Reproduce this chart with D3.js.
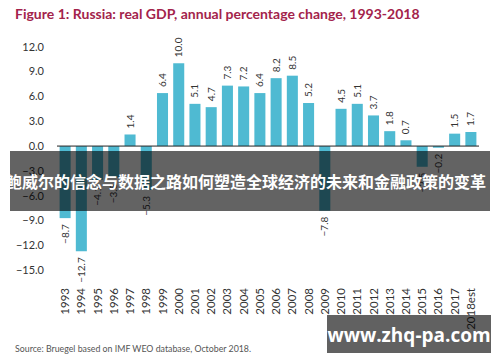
<!DOCTYPE html>
<html><head><meta charset="utf-8">
<script src="https://cdn.jsdelivr.net/npm/d3@7/dist/d3.min.js"></script>
<style>body{margin:0;background:#fff}svg{display:block}</style>
</head><body>
<svg id="c" width="500" height="362"></svg>
<script>
const years = ["1993","1994","1995","1996","1997","1998","1999","2000","2001","2002","2003","2004","2005","2006","2007","2008","2009","2010","2011","2012","2013","2014","2015","2016","2017","2018est"];
const growth = [-8.7,-12.7,-4.1,-3.8,1.4,-5.3,6.4,10.0,5.1,4.7,7.3,7.2,6.4,8.2,8.5,5.2,-7.8,4.5,5.1,3.7,1.8,0.7,-2.5,-0.2,1.5,1.7];
const yTicks = [12,9,6,3,0,-3,-6,-9,-12,-15];
const title = "Figure 1: Russia: real GDP, annual percentage change, 1993-2018";
const source = "Source: Bruegel based on IMF WEO database, October 2018.";
const banner = "鲍威尔的信念与数据之路如何塑造全球经济的未来和金融政策的变革";
const watermark = "www.zhq-pa.com";

const svg = d3.select("#c");
const font = "Lato, 'Open Sans', sans-serif";

svg.append("text").attr("x",15).attr("y",19).attr("fill","#a3234b")
  .attr("font-family",font).attr("font-weight","bold").attr("font-size",14)
  .text(title);

const x = d3.scaleBand().domain(years).range([57,479]).paddingInner(0.32).paddingOuter(0.16);
const y = d3.scaleLinear().domain([-15,12]).range([270.3,46.7]);

// y tick labels
svg.append("g").selectAll("text").data(yTicks).join("text")
  .attr("x",44).attr("y",d=>y(d)).attr("dy","0.35em").attr("text-anchor","end")
  .attr("font-family",font).attr("font-size",11).attr("fill","#333")
  .text(d=>d3.format(".1f")(d));

// bars
svg.append("g").selectAll("rect").data(growth).join("rect")
  .attr("x",(d,i)=>x(years[i])).attr("width",x.bandwidth())
  .attr("y",d=>y(Math.max(0,d))).attr("height",d=>Math.abs(y(d)-y(0)))
  .attr("fill","#4fbad2");

// zero axis
svg.append("line").attr("x1",57).attr("x2",479).attr("y1",y(0)).attr("y2",y(0))
  .attr("stroke","#222").attr("stroke-width",1);

// value labels
svg.append("g").selectAll("text").data(growth).join("text")
  .attr("transform",(d,i)=>{
    const cx = x(years[i]) + x.bandwidth()/2;
    const yy = d>=0 ? y(d)-6 : y(d)+6;
    return `translate(${cx},${yy}) rotate(-90)`;
  })
  .attr("text-anchor",d=>d>=0?"start":"end").attr("dy","0.35em")
  .attr("font-family",font).attr("font-size",10).attr("fill","#333")
  .text(d=>d3.format(".1f")(d));

// year labels
svg.append("g").selectAll("text").data(years).join("text")
  .attr("transform",d=>`translate(${x(d)+x.bandwidth()/2},288) rotate(-90)`)
  .attr("text-anchor","end").attr("dy","0.35em")
  .attr("font-family",font).attr("font-size",11.5).attr("fill","#333")
  .text(d=>d);

svg.append("text").attr("x",15).attr("y",352).attr("fill","#555")
  .attr("font-family",font).attr("font-size",8.8).text(source);

// overlay banner
svg.append("rect").attr("x",10).attr("y",151).attr("width",480).attr("height",60)
  .attr("fill","#000").attr("opacity",0.61);
svg.append("text").attr("x",246).attr("y",182).attr("dy","0.35em").attr("text-anchor","middle")
  .attr("font-family","'Noto Sans CJK SC', sans-serif").attr("font-weight","bold")
  .attr("font-size",16).attr("fill","#fff").text(banner);

// watermark
svg.append("rect").attr("x",327).attr("y",315).attr("width",164).attr("height",38)
  .attr("fill","#000").attr("opacity",0.62);
svg.append("text").attr("x",409).attr("y",335).attr("dy","0.35em").attr("text-anchor","middle")
  .attr("font-family","'Open Sans', sans-serif").attr("font-weight","bold")
  .attr("font-size",19).attr("fill","#fff").text(watermark);
</script>
</body></html>
